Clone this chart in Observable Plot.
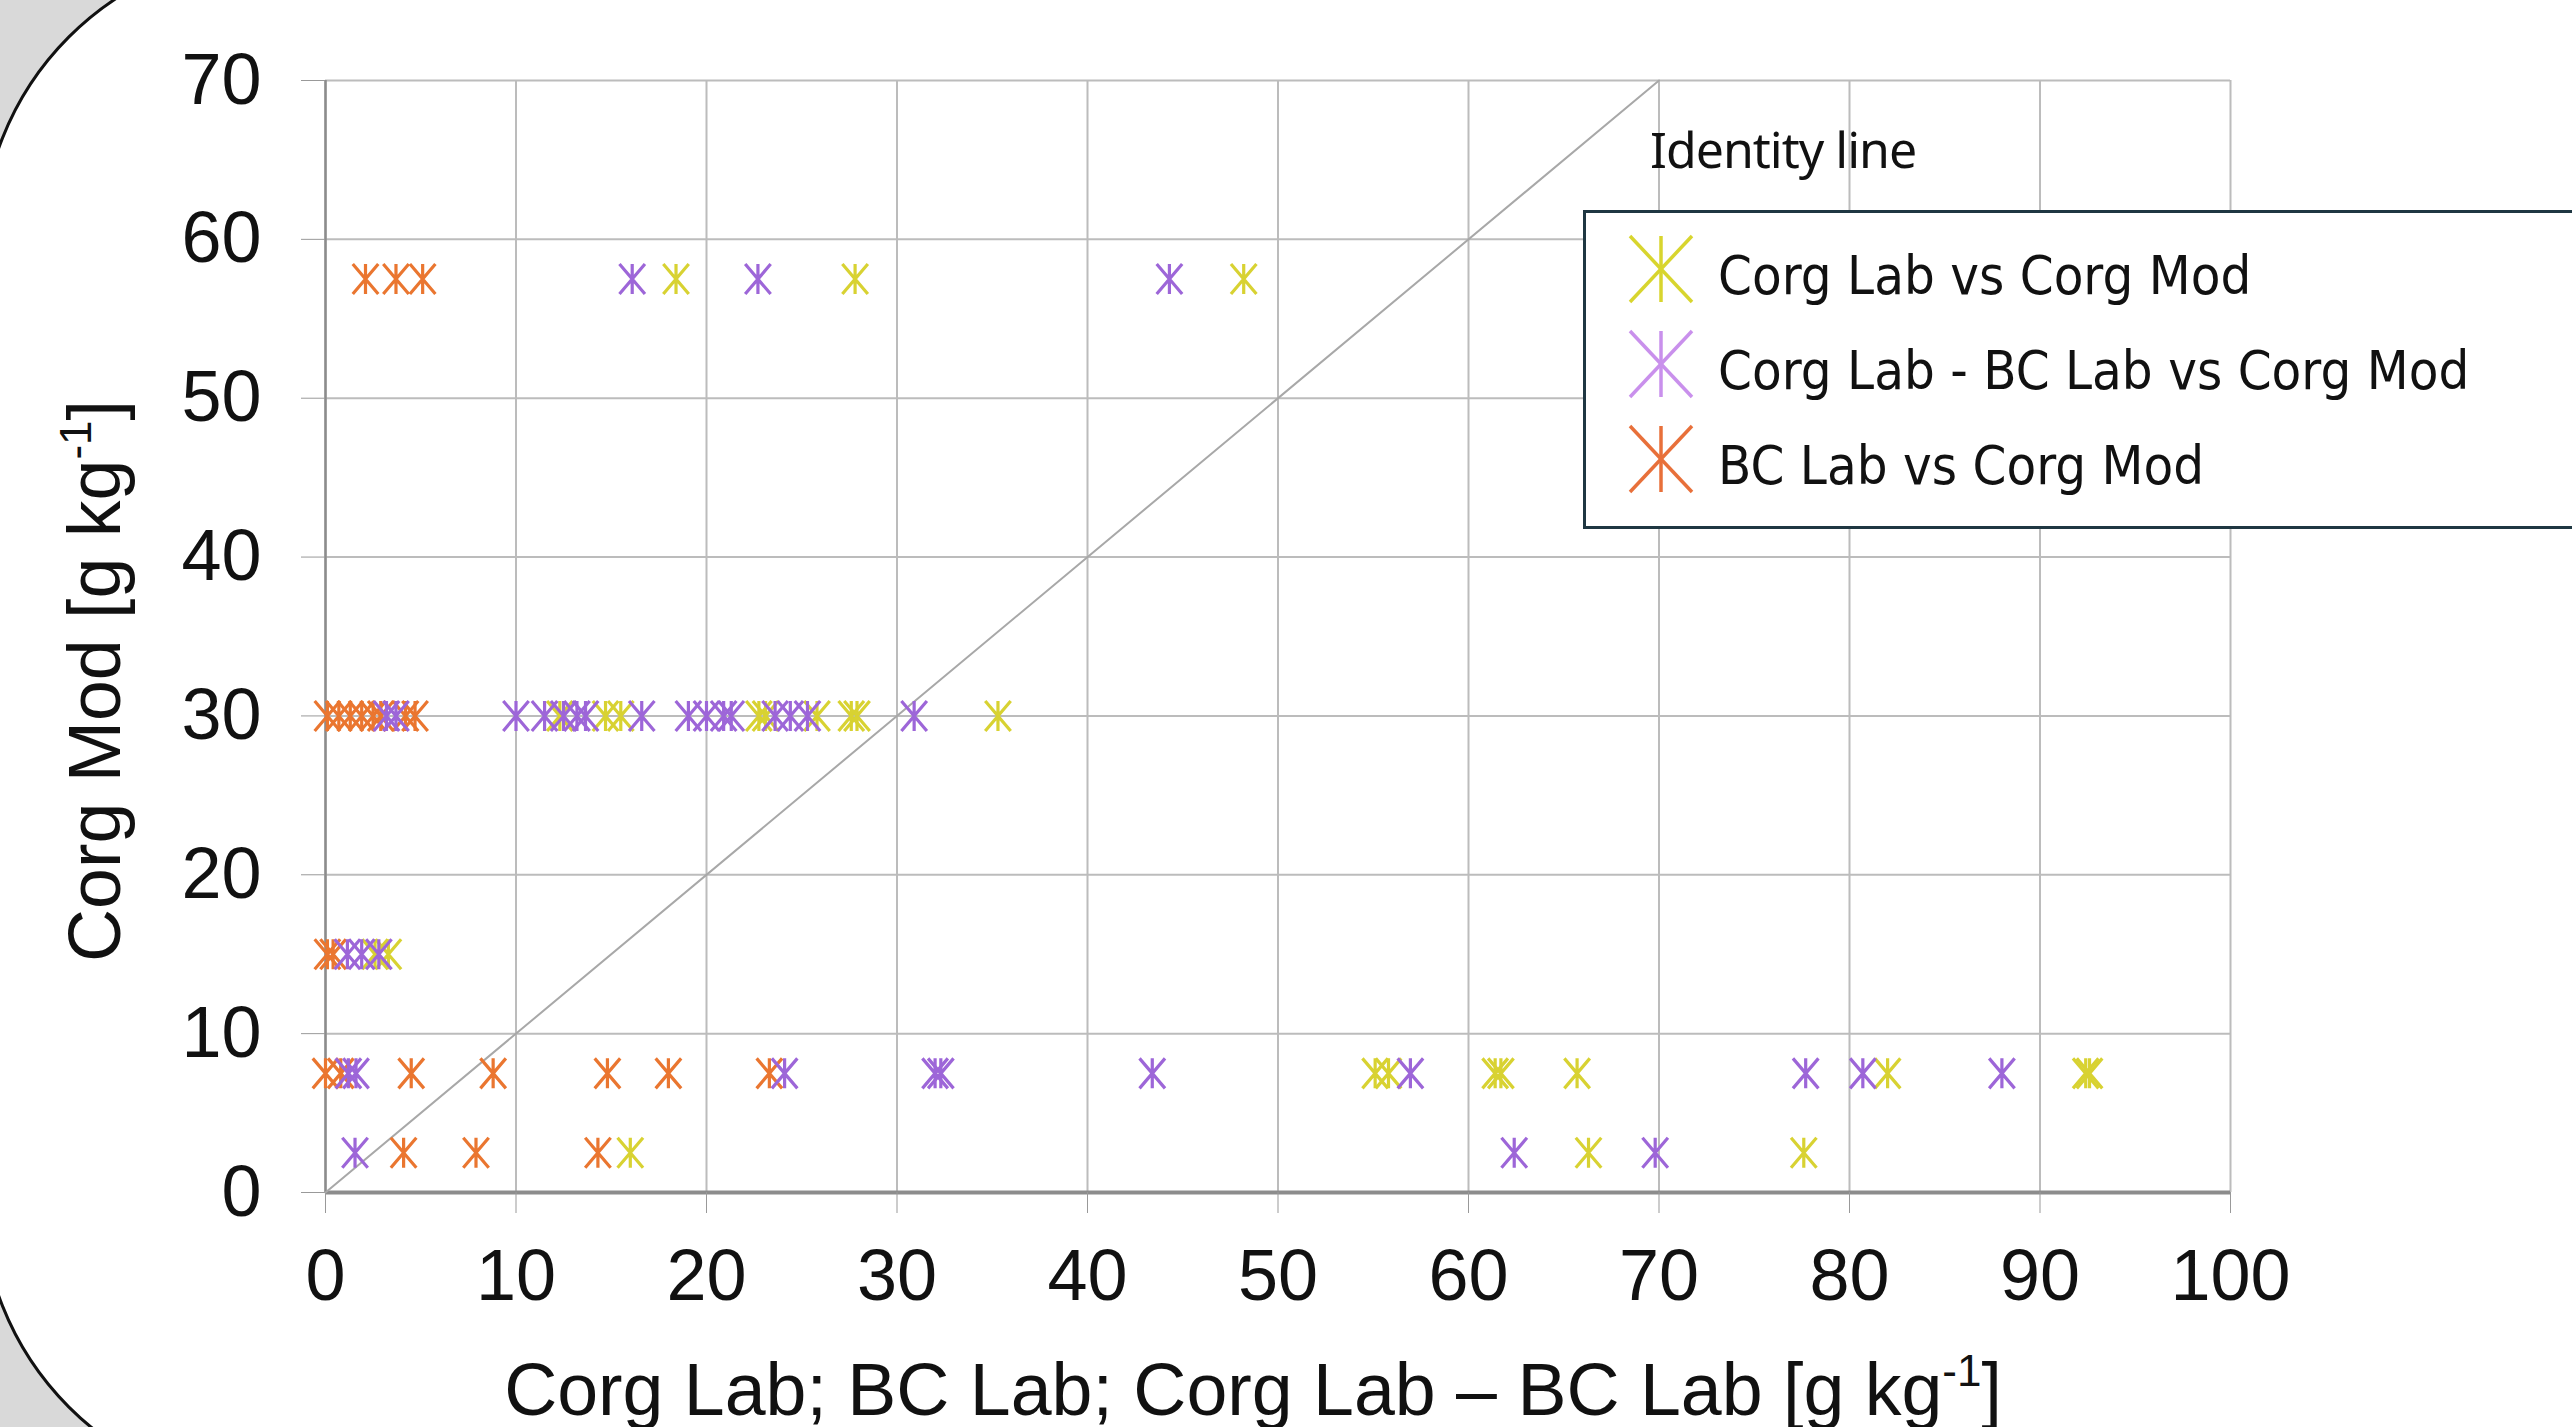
<!DOCTYPE html>
<html>
<head>
<meta charset="utf-8">
<script src="https://cdn.jsdelivr.net/npm/d3@7"></script>
<script src="https://cdn.jsdelivr.net/npm/@observablehq/plot@0.6"></script>
<style>
  html, body { margin: 0; padding: 0; width: 2572px; height: 1427px; overflow: hidden; background: #d9d9d9; }
  #panel { position: absolute; left: -20px; top: -52px; width: 3000px; height: 1548px; box-sizing: border-box;
           border: 3px solid #111; border-radius: 300px; background: #fff; }
  #chart { position: absolute; left: 0; top: 0; }
  #legend { position: absolute; left: 1583px; top: 210px; width: 1200px; height: 319px; box-sizing: border-box;
            border: 3px solid #1f3742; background: #fff; }
  #identity { position: absolute; left: 1650px; top: 115px; font-family: "Noto Sans", sans-serif; font-size: 50px;
              color: #111; letter-spacing: -1px; white-space: nowrap; }
</style>
</head>
<body>
<div id="panel"></div>
<div id="chart"></div>
<div id="identity">Identity line</div>
<div id="legend"></div>
<script>
// ---- Data ----
const xTicks = [0, 10, 20, 30, 40, 50, 60, 70, 80, 90, 100];
const yTicks = [0, 10, 20, 30, 40, 50, 60, 70];
const identityVals = [0, 70];

const seriesNames = ["Corg Lab vs Corg Mod", "Corg Lab - BC Lab vs Corg Mod", "BC Lab vs Corg Mod"];
const seriesColors = ["#d8d232", "#9d66d8", "#ea7630"];
const legendColors = ["#d8d52e", "#c990ec", "#e8703a"];

// Corg Lab vs Corg Mod
const corgLabX = [18.4, 27.8, 48.2,
  12.3, 14.7, 15.5, 22.75, 23.1, 25.8, 27.6, 27.9, 35.3,
  2.6, 3.3,
  55.1, 55.8, 61.4, 61.7, 65.7, 82.0, 92.4, 92.6,
  16.0, 66.3, 77.6];
const corgLabY = [57.5, 57.5, 57.5,
  30, 30, 30, 30, 30, 30, 30, 30, 30,
  15, 15,
  7.5, 7.5, 7.5, 7.5, 7.5, 7.5, 7.5, 7.5,
  2.5, 2.5, 2.5];

// Corg Lab - BC Lab vs Corg Mod
const diffLabX = [16.1, 22.7, 44.3,
  3.2, 3.7, 10.0, 11.5, 12.5, 13.2, 13.65, 16.6, 19.05, 20.0, 20.9, 21.3, 23.6, 24.4, 25.3, 30.9,
  1.15, 1.9, 2.8,
  1.2, 1.6, 24.1, 32.0, 32.3, 43.4, 56.95, 77.7, 80.7, 88.0,
  1.55, 62.4, 69.8];
const diffLabY = [57.5, 57.5, 57.5,
  30, 30, 30, 30, 30, 30, 30, 30, 30, 30, 30, 30, 30, 30, 30, 30,
  15, 15, 15,
  7.5, 7.5, 7.5, 7.5, 7.5, 7.5, 7.5, 7.5, 7.5, 7.5,
  2.5, 2.5, 2.5];

// BC Lab vs Corg Mod
const bcLabX = [2.1, 3.7, 5.1,
  0.1, 0.7, 1.3, 1.9, 2.5, 2.9, 4.2, 4.7,
  0.1, 0.4,
  0.0, 0.8, 4.5, 8.8, 14.8, 18.0, 23.3,
  4.1, 7.9, 14.3];
const bcLabY = [57.5, 57.5, 57.5,
  30, 30, 30, 30, 30, 30, 30, 30,
  15, 15,
  7.5, 7.5, 7.5, 7.5, 7.5, 7.5, 7.5,
  2.5, 2.5, 2.5];

// ---- Build tables ----
const toRows = (xs, ys) => xs.map((x, i) => ({x, y: ys[i]}));
const corgRows = toRows(corgLabX, corgLabY);
const diffRows = toRows(diffLabX, diffLabY);
const bcRows = toRows(bcLabX, bcLabY);

// asterisk symbol: vertical stroke plus an X
const asterisk = {
  draw(ctx, size) {
    const r = Math.sqrt(size / Math.PI);
    const w = r * 0.85;
    ctx.moveTo(0, -r); ctx.lineTo(0, r);
    ctx.moveTo(-w, -r); ctx.lineTo(w, r);
    ctx.moveTo(w, -r); ctx.lineTo(-w, r);
  }
};

const starOpts = (c) => ({x: "x", y: "y", r: 15, symbol: asterisk, fill: "none", stroke: c, strokeWidth: 3.2});

const plot = Plot.plot({
  width: 2572,
  height: 1427,
  marginLeft: 325,
  marginRight: 342,
  marginTop: 80,
  marginBottom: 235,
  style: {background: "transparent", fontFamily: "'Liberation Sans', Arial, sans-serif", fontSize: "72px", color: "#111", overflow: "visible"},
  x: {domain: [0, 100]},
  y: {domain: [0, 70]},
  marks: [
    Plot.ruleX(xTicks, {stroke: "#bcbcbc", strokeWidth: 2}),
    Plot.ruleY(yTicks, {stroke: "#bcbcbc", strokeWidth: 2}),
    Plot.ruleX([0], {stroke: "#8c8c8c", strokeWidth: 2.5}),
    Plot.ruleY([0], {stroke: "#8c8c8c", strokeWidth: 4}),
    Plot.axisX({ticks: xTicks, tickSize: 21, tickPadding: 35, label: null, stroke: "#999", fill: "#111", fontSize: 72}),
    Plot.axisY({ticks: yTicks, tickSize: 24, tickPadding: 40, label: null, stroke: "#999", fill: "#111", fontSize: 72}),
    Plot.line(identityVals, {x: d => d, y: d => d, stroke: "#a8a8a8", strokeWidth: 2}),
    Plot.dot(corgRows, starOpts(seriesColors[0])),
    Plot.dot(bcRows, starOpts(seriesColors[2])),
    Plot.dot(diffRows, starOpts(seriesColors[1]))
  ]
});
document.getElementById("chart").appendChild(plot);

// ---- Axis titles with superscripts ----
const svg = d3.select(plot);
const xt = svg.append("text")
  .attr("x", 1253).attr("y", 1415)
  .attr("text-anchor", "middle")
  .attr("font-family", "'Liberation Sans', Arial, sans-serif")
  .attr("font-size", 73.5).attr("fill", "#111");
xt.append("tspan").text("Corg Lab; BC Lab; Corg Lab \u2013 BC Lab [g kg");
xt.append("tspan").attr("dy", -29).attr("font-size", 44).text("-1");
xt.append("tspan").attr("dy", 29).text("]");

const yt = svg.append("text")
  .attr("transform", "translate(120,681) rotate(-90)")
  .attr("text-anchor", "middle")
  .attr("font-family", "'Liberation Sans', Arial, sans-serif")
  .attr("font-size", 73.5).attr("fill", "#111");
yt.append("tspan").text("Corg Mod [g kg");
yt.append("tspan").attr("dy", -29).attr("font-size", 44).text("-1");
yt.append("tspan").attr("dy", 29).text("]");

// ---- Legend ----
const leg = d3.select("#legend").append("svg").attr("width", 1194).attr("height", 313);
seriesNames.forEach((name, i) => {
  const cy = 56 + i * 95, cx = 75, r = 33, w = 31;
  const g = leg.append("g").attr("stroke", legendColors[i]).attr("stroke-width", 3.5).attr("fill", "none");
  g.append("line").attr("x1", cx).attr("x2", cx).attr("y1", cy - r).attr("y2", cy + r);
  g.append("line").attr("x1", cx - w).attr("x2", cx + w).attr("y1", cy - r).attr("y2", cy + r);
  g.append("line").attr("x1", cx + w).attr("x2", cx - w).attr("y1", cy - r).attr("y2", cy + r);
  leg.append("text")
    .attr("transform", `translate(132,${cy + 25}) scale(0.9,1)`)
    .attr("font-family", "'DejaVu Sans', Verdana, sans-serif")
    .attr("font-size", 54).attr("fill", "#111")
    .text(name);
});
</script>
</body>
</html>
